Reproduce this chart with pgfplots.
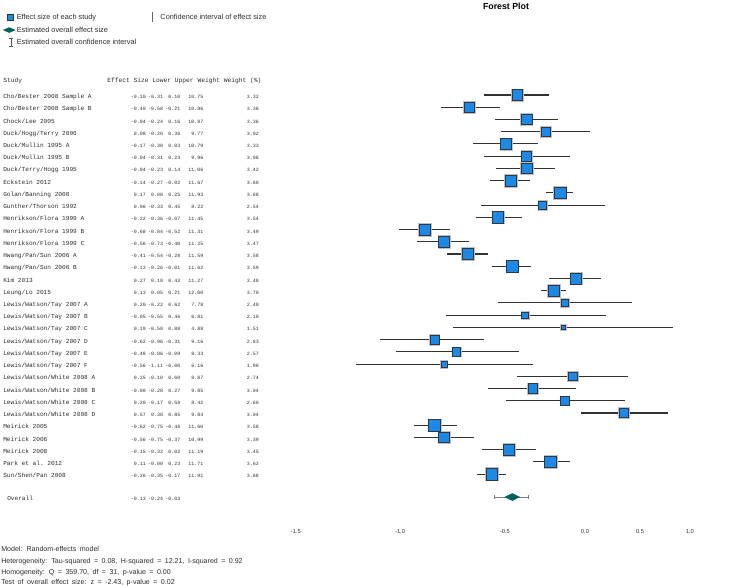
\documentclass[border=0pt]{standalone}
\usepackage{pgfplots}
\pgfplotsset{compat=1.18}
\usepackage{pgfplotstable}
\usepackage{fontspec}
\setmainfont{Liberation Sans}
\setmonofont{Liberation Mono}
\definecolor{sqfill}{RGB}{30,136,229}
\definecolor{sqedge}{RGB}{45,55,70}
\definecolor{diam}{RGB}{0,98,88}
\definecolor{ci}{RGB}{50,50,50}
\definecolor{txt}{RGB}{45,45,45}
\newcommand{\nmfont}{\ttfamily\fontsize{4.6}{5}\selectfont}
\newcommand{\numfont}{\ttfamily\fontsize{3.7}{5}\selectfont}
\newcommand{\hdfont}{\ttfamily\fontsize{4.7}{5}\selectfont}
\newcommand{\btfont}{\fontsize{5.3}{6}\selectfont\spaceskip=2.6pt plus 1pt minus 0.5pt\relax}
\newcommand{\trow}[7]{%
 \node[anchor=base west, font=\nmfont] at (3,{98.6+(#1-1)*12.23}) {#2};
 \node[anchor=base east, font=\numfont] at (146,{98.6+(#1-1)*12.23}) {#3};
 \node[anchor=base east, font=\numfont] at (163.3,{98.6+(#1-1)*12.23}) {#4};
 \node[anchor=base east, font=\numfont] at (180.5,{98.6+(#1-1)*12.23}) {#5};
 \node[anchor=base east, font=\numfont] at (203.5,{98.6+(#1-1)*12.23}) {#6};
 \node[anchor=base east, font=\numfont] at (259,{98.6+(#1-1)*12.23}) {#7};
}
\pgfplotstableread{
row es lo hi w p
1 -0.10 -0.31 0.10 10.75 3.32
2 -0.40 -0.58 -0.21 10.96 3.38
3 -0.04 -0.24 0.16 10.87 3.36
4 0.08 -0.20 0.36 9.77 3.02
5 -0.17 -0.38 0.03 10.79 3.33
6 -0.04 -0.31 0.23 9.96 3.08
7 -0.04 -0.23 0.14 11.06 3.42
8 -0.14 -0.27 -0.02 11.67 3.60
9 0.17 0.08 0.25 11.93 3.68
10 0.06 -0.33 0.45 8.22 2.54
11 -0.22 -0.36 -0.07 11.45 3.54
12 -0.68 -0.84 -0.52 11.31 3.49
13 -0.56 -0.73 -0.40 11.25 3.47
14 -0.41 -0.54 -0.28 11.59 3.58
15 -0.13 -0.26 -0.01 11.62 3.59
16 0.27 0.10 0.43 11.27 3.48
17 0.13 0.05 0.21 12.00 3.70
18 0.20 -0.22 0.62 7.78 2.40
19 -0.05 -0.55 0.46 6.81 2.10
20 0.19 -0.50 0.88 4.88 1.51
21 -0.62 -0.96 -0.31 9.16 2.83
22 -0.48 -0.86 -0.09 8.33 2.57
23 -0.56 -1.11 -0.00 6.16 1.90
24 0.25 -0.10 0.60 8.87 2.74
25 -0.00 -0.28 0.27 9.85 3.04
26 0.20 -0.17 0.58 8.42 2.60
27 0.57 0.30 0.85 9.84 3.04
28 -0.62 -0.75 -0.48 11.60 3.58
29 -0.56 -0.75 -0.37 10.99 3.39
30 -0.15 -0.32 0.02 11.19 3.45
31 0.11 -0.00 0.23 11.71 3.62
32 -0.26 -0.35 -0.17 11.91 3.68
}\studies
\begin{document}
\begin{tikzpicture}
\begin{axis}[
  name=main, scale only axis, width=555pt, height=375.75pt,
  xmin=-3.352, xmax=1.302, ymin=-6.768, ymax=34.197, y dir=reverse,
  clip=false, axis line style={draw=none},
  major tick style={draw=none}, minor tick style={draw=none},
  ytick=\empty,
  xtick={-1.491,-0.836,-0.176,0.327,0.673,0.987},
  xticklabels={-1.5,-1.0,-0.5,0.0,0.5,1.0},
  xticklabel style={font=\fontsize{4.3}{5}\selectfont, text=txt, inner sep=1pt, yshift=-20pt},
  legend columns=2,
  legend cell align=left,
  legend style={at={(axis cs:-3.352,-5.81)}, anchor=north west, draw=none, fill=none,
    inner sep=0pt, outer sep=0pt, font=\fontsize{5.5}{6}\selectfont, text=txt,
    row sep=1.9pt, nodes={inner sep=0.6pt, text height=4.8pt, text depth=1.5pt},
    /tikz/every even column/.append style={column sep=10pt}},
]
\addplot[only marks, mark=none, forget plot,
  error bars/.cd, x dir=both, x explicit, error mark=none,
  error bar style={draw=ci, line width=0.8pt}]
  table[x=es, y=row, x error minus expr=\thisrow{es}-\thisrow{lo}, x error plus expr=\thisrow{hi}-\thisrow{es}] {\studies};
\addplot[scatter, only marks, mark=square*, forget plot,
  scatter/use mapped color={draw=black!25, fill=black!25},
  visualization depends on={0.364*\thisrow{w}+0.55 \as \hsz},
  scatter/@pre marker code/.append style={/tikz/mark size=\hsz pt},
  mark options={line width=0.3pt}]
  table[x=es, y=row] {\studies};
\addplot[scatter, only marks, mark=square*, forget plot,
  scatter/use mapped color={draw=sqedge, fill=sqfill},
  visualization depends on={0.364*\thisrow{w} \as \msz},
  scatter/@pre marker code/.append style={/tikz/mark size=\msz pt},
  mark options={line width=0.45pt}]
  table[x=es, y=row] {\studies};
\addplot[forget plot, draw=gray, line width=0.6pt, mark=|, mark size=1.5pt, mark options={draw=gray, line width=0.6pt}]
  coordinates {(-0.24,33.87) (-0.03,33.87)};
\addplot[forget plot, only marks, mark=diamond*, mark size=2.7pt,
  mark options={xscale=2.75, fill=diam, draw=diam, line width=0.2pt}]
  coordinates {(-0.13,33.87)};
\addlegendimage{legend image code/.code={\draw[fill=sqfill, draw=sqedge, line width=0.3pt] (5.2pt,-2.4pt) rectangle (10pt,2.4pt); \path[draw=none] (0pt,0pt)--(12pt,0pt);}}
\addlegendentry{Effect size of each study}
\addlegendimage{legend image code/.code={\draw[gray!80!black, line width=0.9pt] (1.5pt,-3.6pt)--(1.5pt,3.6pt); \path[draw=none] (0pt,0pt)--(7pt,0pt);}}
\addlegendentry{Confidence interval of effect size}
\addlegendimage{legend image code/.code={\fill[diam, draw=none] (2.1pt,0pt)--(6.9pt,2.1pt)--(11.7pt,0pt)--(6.9pt,-2.1pt)--cycle; \path[draw=none] (0pt,0pt)--(12pt,0pt);}}
\addlegendentry{Estimated overall effect size}
\addlegendimage{empty legend}
\addlegendentry{}
\addlegendimage{legend image code/.code={\draw[gray!70!black, line width=0.6pt] (8.2pt,-3.2pt)--(8.2pt,3.2pt) (7pt,3.2pt)--(9.4pt,3.2pt) (7pt,-3.2pt)--(9.4pt,-3.2pt); \path[draw=none] (0pt,0pt)--(12pt,0pt);}}
\addlegendentry{Estimated overall confidence interval}
\end{axis}
\begin{scope}[shift={(main.north west)}, x=0.75pt, y=-0.75pt, every node/.style={text=txt, inner sep=0pt}]
 \node[font=\bfseries\fontsize{6.6}{8}\selectfont, text=black] at (506,6) {Forest Plot};
 \node[anchor=base west, font=\hdfont] at (3,83) {Study};
 \node[anchor=base west, font=\hdfont] at (107,83) {Effect Size Lower Upper Weight Weight (\%)};
 \trow{1}{Cho/Bester 2008 Sample A}{-0.10}{-0.31}{0.10}{10.75}{3.32}
 \trow{2}{Cho/Bester 2008 Sample B}{-0.40}{-0.58}{-0.21}{10.96}{3.38}
 \trow{3}{Chock/Lee 2005}{-0.04}{-0.24}{0.16}{10.87}{3.36}
 \trow{4}{Duck/Hogg/Terry 2006}{0.08}{-0.20}{0.36}{9.77}{3.02}
 \trow{5}{Duck/Mullin 1995 A}{-0.17}{-0.38}{0.03}{10.79}{3.33}
 \trow{6}{Duck/Mullin 1995 B}{-0.04}{-0.31}{0.23}{9.96}{3.08}
 \trow{7}{Duck/Terry/Hogg 1995}{-0.04}{-0.23}{0.14}{11.06}{3.42}
 \trow{8}{Eckstein 2012}{-0.14}{-0.27}{-0.02}{11.67}{3.60}
 \trow{9}{Golan/Banning 2008}{0.17}{0.08}{0.25}{11.93}{3.68}
 \trow{10}{Gunther/Thorson 1992}{0.06}{-0.33}{0.45}{8.22}{2.54}
 \trow{11}{Henrikson/Flora 1999 A}{-0.22}{-0.36}{-0.07}{11.45}{3.54}
 \trow{12}{Henrikson/Flora 1999 B}{-0.68}{-0.84}{-0.52}{11.31}{3.49}
 \trow{13}{Henrikson/Flora 1999 C}{-0.56}{-0.73}{-0.40}{11.25}{3.47}
 \trow{14}{Hwang/Pan/Sun 2006 A}{-0.41}{-0.54}{-0.28}{11.59}{3.58}
 \trow{15}{Hwang/Pan/Sun 2006 B}{-0.13}{-0.26}{-0.01}{11.62}{3.59}
 \trow{16}{Kim 2013}{0.27}{0.10}{0.43}{11.27}{3.48}
 \trow{17}{Leung/Lo 2015}{0.13}{0.05}{0.21}{12.00}{3.70}
 \trow{18}{Lewis/Watson/Tay 2007 A}{0.20}{-0.22}{0.62}{7.78}{2.40}
 \trow{19}{Lewis/Watson/Tay 2007 B}{-0.05}{-0.55}{0.46}{6.81}{2.10}
 \trow{20}{Lewis/Watson/Tay 2007 C}{0.19}{-0.50}{0.88}{4.88}{1.51}
 \trow{21}{Lewis/Watson/Tay 2007 D}{-0.62}{-0.96}{-0.31}{9.16}{2.83}
 \trow{22}{Lewis/Watson/Tay 2007 E}{-0.48}{-0.86}{-0.09}{8.33}{2.57}
 \trow{23}{Lewis/Watson/Tay 2007 F}{-0.56}{-1.11}{-0.00}{6.16}{1.90}
 \trow{24}{Lewis/Watson/White 2008 A}{0.25}{-0.10}{0.60}{8.87}{2.74}
 \trow{25}{Lewis/Watson/White 2008 B}{-0.00}{-0.28}{0.27}{9.85}{3.04}
 \trow{26}{Lewis/Watson/White 2008 C}{0.20}{-0.17}{0.58}{8.42}{2.60}
 \trow{27}{Lewis/Watson/White 2008 D}{0.57}{0.30}{0.85}{9.84}{3.04}
 \trow{28}{Meirick 2005}{-0.62}{-0.75}{-0.48}{11.60}{3.58}
 \trow{29}{Meirick 2006}{-0.56}{-0.75}{-0.37}{10.99}{3.39}
 \trow{30}{Meirick 2008}{-0.15}{-0.32}{0.02}{11.19}{3.45}
 \trow{31}{Park et al. 2012}{0.11}{-0.00}{0.23}{11.71}{3.62}
 \trow{32}{Sun/Shen/Pan 2008}{-0.26}{-0.35}{-0.17}{11.91}{3.68}
 \node[anchor=base west, font=\nmfont] at (7,501) {Overall};
 \node[anchor=base east, font=\numfont] at (146,501) {-0.13};
 \node[anchor=base east, font=\numfont] at (163.3,501) {-0.24};
 \node[anchor=base east, font=\numfont] at (180.5,501) {-0.03};
 \begin{scope}[every node/.style={anchor=base west, text=txt, inner sep=0pt, font=\btfont}]
 \node at (1,551.5) {Model: Random-effects model};
 \node at (1,563.5) {Heterogeneity: Tau-squared = 0.08, H-squared = 12.21, I-squared = 0.92};
 \node at (1,574.5) {Homogeneity: Q = 359.70, df = 31, p-value = 0.00};
 \node at (1,584.5) {Test of overall effect size: z = -2.43, p-value = 0.02};
 \end{scope}
\end{scope}
\pgfresetboundingbox
\path[use as bounding box] (main.north west) rectangle ([xshift=555pt, yshift=-439.5pt]main.north west);
\end{tikzpicture}
\end{document}
